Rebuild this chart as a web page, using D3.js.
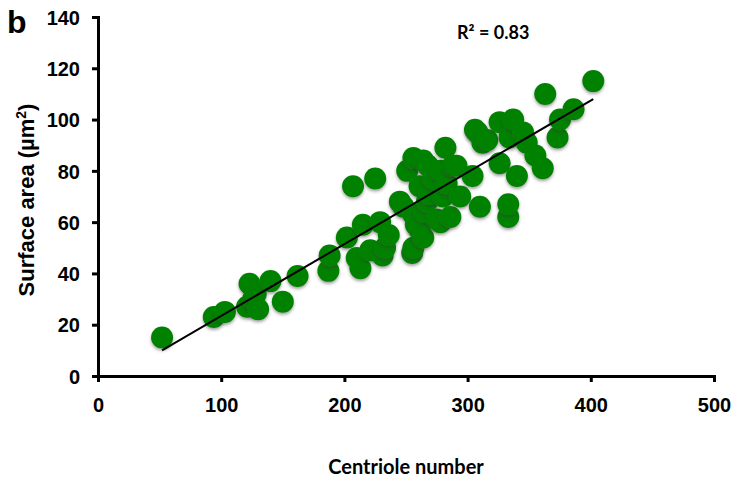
<!DOCTYPE html>
<html>
<head>
<meta charset="utf-8" />
<title>Centriole number vs surface area</title>
<style>
  body { margin: 0; background: #fff; }
  svg { display: block; }
</style>
</head>
<body>
<svg width="735" height="484"></svg>
<script src="https://cdn.jsdelivr.net/npm/d3@7"></script>
<script>
// centriole number per cell
var centrioles = [52, 94, 103, 121, 123, 126, 128, 130, 140, 150, 162, 187, 188, 202, 207, 210, 213, 215, 221, 225, 229,
  231, 233, 236, 245, 248, 251, 255, 256, 256, 256, 258, 261, 261, 264, 264, 265, 267, 268, 269, 272, 275, 278, 278, 280, 282, 283,
  286, 288, 291, 294, 304, 306, 308, 310, 312, 316, 326, 326, 333, 333, 334, 337, 340, 345, 348, 355,
  361, 363, 373, 375, 386, 402];
// surface area (µm²)
var areas = [15, 23, 25, 27, 36, 30, 32, 26, 37, 29, 39, 41, 47, 54, 74, 46, 42, 59, 49, 77, 60,
  47, 50, 55, 68, 66, 80, 48, 85, 63, 50, 59, 57, 74, 54, 84, 64, 68, 82, 71, 77, 61, 60, 80, 70, 89, 75,
  62, 82, 82, 70, 78, 96, 95, 66, 91, 92, 83, 99, 62, 67, 93, 100, 78, 95, 91, 86,
  81, 110, 93, 100, 104, 115];

var xTicks = [0, 100, 200, 300, 400, 500];
var yTicks = [0, 20, 40, 60, 80, 100, 120, 140];

// linear fit as drawn in the figure
var fitRange = [52, 402];
var fitSlope = 0.28, fitIntercept = -4.56;
var rSquared = "0.83";

var svg = d3.select("svg");

var x = d3.scaleLinear().domain([0, 500]).range([98, 714]);
var y = d3.scaleLinear().domain([0, 140]).range([376, 17]);

var defs = svg.append("defs");
var f = defs.append("filter").attr("id", "shadow")
  .attr("x", "-50%").attr("y", "-50%").attr("width", "200%").attr("height", "200%");
f.append("feDropShadow").attr("dx", 0).attr("dy", 2).attr("stdDeviation", 1.5)
  .attr("flood-color", "#333").attr("flood-opacity", 0.45);

// points
var pts = centrioles.map(function(c, i) { return [c, areas[i]]; });
svg.append("g").selectAll("circle")
  .data(pts)
  .enter().append("circle")
  .attr("cx", function(d) { return x(d[0]); })
  .attr("cy", function(d) { return y(d[1]); })
  .attr("r", 11)
  .attr("fill", "#008200")
  .attr("filter", "url(#shadow)");

// fit line
svg.append("line")
  .attr("x1", x(fitRange[0])).attr("y1", y(fitSlope * fitRange[0] + fitIntercept))
  .attr("x2", x(fitRange[1])).attr("y2", y(fitSlope * fitRange[1] + fitIntercept))
  .attr("stroke", "#000").attr("stroke-width", 2);

// axes
var xAxis = svg.append("g").attr("transform", "translate(0,376)")
  .call(d3.axisBottom(x).tickValues(xTicks).tickSize(6).tickPadding(16));
var yAxis = svg.append("g").attr("transform", "translate(98,0)")
  .call(d3.axisLeft(y).tickValues(yTicks).tickSize(6).tickPadding(12));

[xAxis, yAxis].forEach(function(a) {
  a.select(".domain").attr("stroke", "#000").attr("stroke-width", 3);
  a.selectAll(".tick line").attr("stroke", "#000").attr("stroke-width", 3);
  a.selectAll(".tick text")
    .attr("fill", "#000")
    .style("font-family", "'Liberation Sans', Arial, sans-serif")
    .style("font-weight", "bold")
    .style("font-size", "20px");
});
yAxis.selectAll(".tick text").attr("dy", "0.36em");

// titles
svg.append("text")
  .attr("transform", "translate(34,200) rotate(-90)")
  .attr("text-anchor", "middle")
  .style("font-family", "'Liberation Sans', Arial, sans-serif")
  .style("font-weight", "bold")
  .style("font-size", "22px")
  .html("Surface area (µm<tspan dy='-8' font-size='14px'>2</tspan><tspan dy='8'>)</tspan>");

svg.append("text")
  .attr("x", 406).attr("y", 474)
  .attr("text-anchor", "middle")
  .style("font-family", "Lato, 'Open Sans', sans-serif")
  .style("font-weight", "bold")
  .style("font-size", "20px")
  .text("Centriole number");

svg.append("text")
  .attr("x", 457).attr("y", 39)
  .style("font-family", "Lato, 'Open Sans', sans-serif")
  .style("font-weight", "bold")
  .style("font-size", "18px")
  .text("R² = " + rSquared);

svg.append("text")
  .attr("x", 7).attr("y", 33)
  .style("font-family", "'Liberation Sans', Arial, sans-serif")
  .style("font-weight", "bold")
  .style("font-size", "32px")
  .text("b");
</script>
</body>
</html>
